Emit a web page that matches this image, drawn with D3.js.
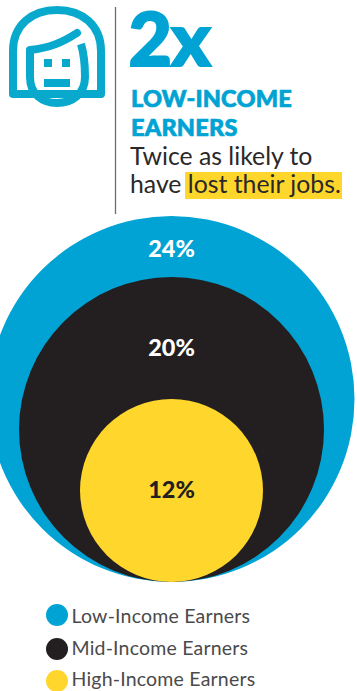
<!DOCTYPE html>
<html>
<head>
<meta charset="utf-8">
<script src="https://cdn.jsdelivr.net/npm/d3@7"></script>
<style>
html,body{margin:0;padding:0;background:#fff;overflow:hidden}
svg{display:block}
text{font-family:Lato,"Open Sans",sans-serif}
</style>
</head>
<body>
<svg id="c" width="357" height="691"></svg>
<script>
// Share of workers in each income group who lost their jobs
const groups = ["Low-Income Earners", "Mid-Income Earners", "High-Income Earners"];
const shares = [24, 20, 12];
const colours = ["#00a3d3", "#231f20", "#ffd62b"];
const shareText = ["#fff", "#fff", "#231f20"];

const svg = d3.select("#c");
const BLUE = colours[0], INK = "#2b2829";

const radius = d3.scaleLinear().domain([0, 24]).range([0, 183]);
const cx = 171.5, floor = 582;

// Nested circles resting on a common base
svg.append("g").selectAll("circle").data(shares).join("circle")
  .attr("cx", cx)
  .attr("cy", d => floor - radius(d))
  .attr("r", d => radius(d))
  .attr("fill", (d, i) => colours[i]);

const labelBase = [257, 356, 498];
svg.append("g").selectAll("text").data(shares).join("text")
  .attr("x", cx).attr("y", (d, i) => labelBase[i])
  .attr("text-anchor", "middle")
  .attr("font-size", 23.5).attr("font-weight", 900)
  .attr("fill", (d, i) => shareText[i])
  .text(d => d + "%");

// Legend
const legendY = [615, 649, 681], legendBase = [623, 655, 686];
const legend = svg.append("g").selectAll("g").data(groups).join("g");
legend.append("circle").attr("cx", 57).attr("cy", (d, i) => legendY[i]).attr("r", 11).attr("fill", (d, i) => colours[i]);
legend.append("text").attr("x", 71.5).attr("y", (d, i) => legendBase[i])
  .attr("font-size", 19.5).attr("letter-spacing", 0.2).attr("fill", "#4a4a4c").text(d => d);

// Header rule
svg.append("line").attr("x1", 115.5).attr("x2", 115.5).attr("y1", 7).attr("y2", 214)
  .attr("stroke", "#6d6e70").attr("stroke-width", 1.3);

// Person icon
const icon = svg.append("g").attr("fill", "none").attr("stroke", "#09a9cd")
  .attr("stroke-width", 8).attr("stroke-linejoin", "round");
icon.append("path").attr("d", "M13 94V51C13 25 32 10 57 10C82 10 101 25 101 51V94Z");
icon.append("path").attr("d", "M30 50V77C30 94 42 103 57 103C72 103 85 94 85 77C85 65 84 54 81 44");
icon.append("path").attr("d", "M30 50C50 48 63 42 77 33").attr("stroke-linecap", "round");
icon.append("g").attr("fill", "#09a9cd").attr("stroke", "none").call(g => {
  g.append("rect").attr("x", 44).attr("y", 59).attr("width", 8).attr("height", 8);
  g.append("rect").attr("x", 62).attr("y", 59).attr("width", 8).attr("height", 8);
  g.append("rect").attr("x", 44).attr("y", 79).attr("width", 26).attr("height", 8);
});

// Headline, thickened with a same-colour outline
svg.append("text").attr("x", 128.5).attr("y", 66).attr("font-size", 75).attr("font-weight", 900)
  .attr("letter-spacing", -1).attr("fill", BLUE).attr("stroke", BLUE).attr("stroke-width", 2).text("2x");
["LOW-INCOME", "EARNERS"].forEach((line, i) => {
  svg.append("text").attr("x", 131).attr("y", 107 + i * 29).attr("font-size", 23.5).attr("font-weight", 900)
    .attr("letter-spacing", 0.2).attr("fill", BLUE).attr("stroke", BLUE).attr("stroke-width", 0.7).text(line);
});

// Highlighted sentence
svg.append("rect").attr("x", 185).attr("y", 172).attr("width", 157).attr("height", 27).attr("fill", colours[2]);
svg.append("text").attr("x", 130).attr("y", 165).attr("font-size", 24.8).attr("fill", INK).text("Twice as likely to");
svg.append("text").attr("x", 130).attr("y", 193).attr("font-size", 24.8).attr("fill", INK).text("have lost their jobs.");
</script>
</body>
</html>
